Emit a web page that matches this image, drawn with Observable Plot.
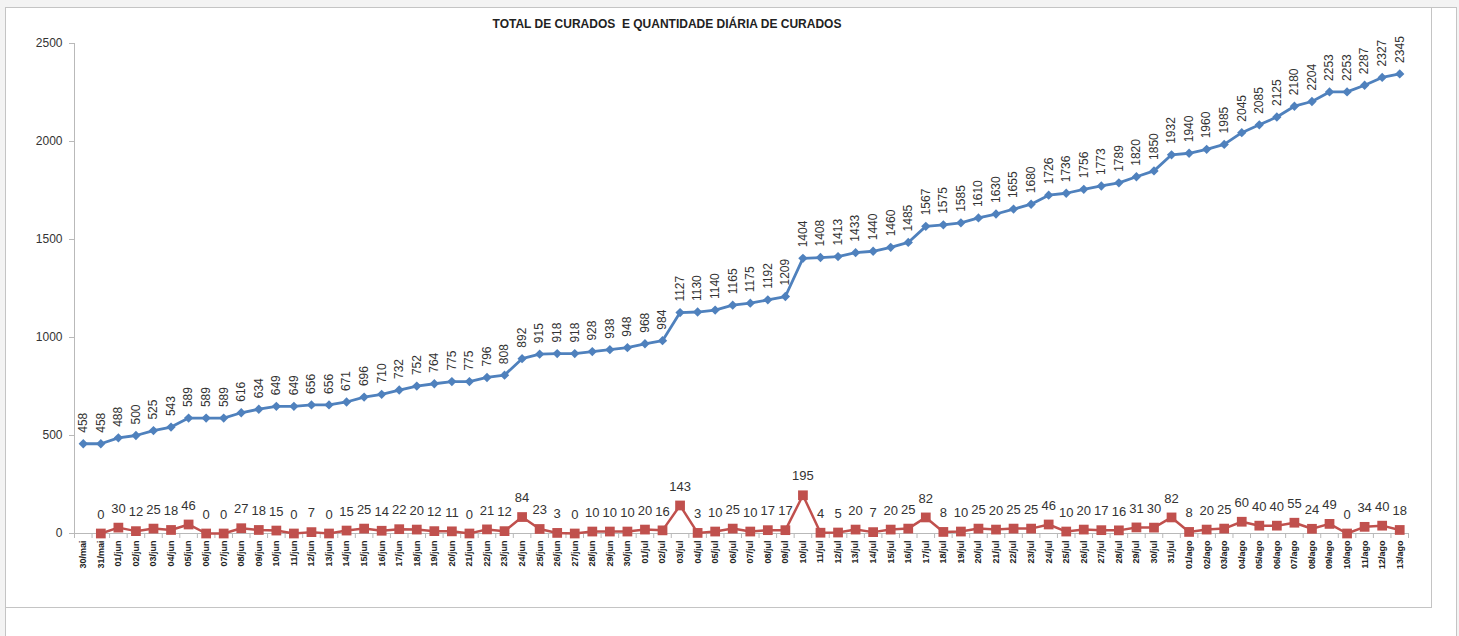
<!DOCTYPE html>
<html>
<head>
<meta charset="utf-8">
<script src="https://cdn.jsdelivr.net/npm/d3@7"></script>
<script src="https://cdn.jsdelivr.net/npm/@observablehq/plot@0.6"></script>
<style>
  html, body { margin: 0; padding: 0; }
  body { background: #f3f3f3; width: 1459px; height: 636px; overflow: hidden; position: relative; font-family: "Liberation Sans", Arial, sans-serif; }
  #outer { position: absolute; left: 5px; top: 7px; width: 1450px; height: 640px; background: #fff; border-left: 1px solid #c4c4c4; border-top: 1px solid #c4c4c4; border-right: 1px solid #c4c4c4; }
  #inner { position: absolute; left: 5px; top: 7px; width: 1426px; height: 600px; border-right: 1px solid #c4c4c4; border-bottom: 1px solid #c4c4c4; }
  #title { position: absolute; left: 0; top: 16px; width: 1334px; text-align: center; font-size: 12px; font-weight: bold; color: #222; line-height: 16px; }
  #chart { position: absolute; left: 0; top: 0; }
</style>
</head>
<body>
<div id="outer"></div>
<div id="inner"></div>
<div id="title">TOTAL DE CURADOS&nbsp; E QUANTIDADE DIÁRIA DE CURADOS</div>
<div id="chart"></div>
<script>
const dates = [
  "30/mai","31/mai",
  "01/jun","02/jun","03/jun","04/jun","05/jun","06/jun","07/jun","08/jun","09/jun","10/jun",
  "11/jun","12/jun","13/jun","14/jun","15/jun","16/jun","17/jun","18/jun","19/jun","20/jun",
  "21/jun","22/jun","23/jun","24/jun","25/jun","26/jun","27/jun","28/jun","29/jun","30/jun",
  "01/jul","02/jul","03/jul","04/jul","05/jul","06/jul","07/jul","08/jul","09/jul","10/jul",
  "11/jul","12/jul","13/jul","14/jul","15/jul","16/jul","17/jul","18/jul","19/jul","20/jul",
  "21/jul","22/jul","23/jul","24/jul","25/jul","26/jul","27/jul","28/jul","29/jul","30/jul","31/jul",
  "01/ago","02/ago","03/ago","04/ago","05/ago","06/ago","07/ago","08/ago","09/ago","10/ago",
  "11/ago","12/ago","13/ago"
];

const totalCurados = [
  458, 458,
  488, 500, 525, 543, 589, 589, 589, 616, 634, 649,
  649, 656, 656, 671, 696, 710, 732, 752, 764, 775,
  775, 796, 808, 892, 915, 918, 918, 928, 938, 948,
  968, 984, 1127, 1130, 1140, 1165, 1175, 1192, 1209, 1404,
  1408, 1413, 1433, 1440, 1460, 1485, 1567, 1575, 1585, 1610,
  1630, 1655, 1680, 1726, 1736, 1756, 1773, 1789, 1820, 1850, 1932,
  1940, 1960, 1985, 2045, 2085, 2125, 2180, 2204, 2253, 2253,
  2287, 2327, 2345
];

// daily values start at 31/mai
const dailyDates = dates.slice(1);
const dailyCurados = [
  0,
  30, 12, 25, 18, 46, 0, 0, 27, 18, 15,
  0, 7, 0, 15, 25, 14, 22, 20, 12, 11,
  0, 21, 12, 84, 23, 3, 0, 10, 10, 10,
  20, 16, 143, 3, 10, 25, 10, 17, 17, 195,
  4, 5, 20, 7, 20, 25, 82, 8, 10, 25,
  20, 25, 25, 46, 10, 20, 17, 16, 31, 30, 82,
  8, 20, 25, 60, 40, 40, 55, 24, 49, 0,
  34, 40, 18
];

const yTicks = [0, 500, 1000, 1500, 2000, 2500];

const totalData = dates.map((d, i) => ({date: d, value: totalCurados[i]}));
const dailyData = dailyDates.map((d, i) => ({date: d, value: dailyCurados[i]}));

const BLUE = "#4F81BD";
const RED = "#C0504D";
const AXIS = "#b9b9b9";

const W = 1459, H = 636;
const mL = 74, mR = 51, mT = 43, mB = 103;
const step = (W - mL - mR) / dates.length;

const chart = Plot.plot({
  width: W,
  height: H,
  marginLeft: mL,
  marginRight: mR,
  marginTop: mT,
  marginBottom: mB,
  style: { background: "transparent", fontFamily: "'Liberation Sans', Arial, sans-serif", overflow: "visible" },
  x: { type: "point", domain: dates, padding: 0.5, axis: null },
  y: { domain: [0, 2500], axis: null },
  marks: [
    Plot.frame({ anchor: "left", stroke: AXIS }),
    Plot.ruleY([0], { stroke: AXIS }),
    Plot.axisY({ ticks: yTicks, tickSize: 5, tickFormat: () => "", stroke: AXIS, label: null }),
    Plot.axisY({ ticks: yTicks, tickSize: 0, tickPadding: 12, tickFormat: d => String(d), fill: "#333", fontSize: 12, label: null }),
    Plot.axisX({ tickSize: 5, tickFormat: () => "", stroke: AXIS, dx: -step / 2, label: null }),
    Plot.axisX({ ticks: [dates[dates.length - 1]], tickSize: 5, tickFormat: () => "", stroke: AXIS, dx: step / 2, label: null }),
    Plot.axisX({ tickSize: 0, tickPadding: 7, tickRotate: -90, fontSize: 9, fontWeight: "bold", fill: "#222", label: null }),

    Plot.line(totalData, { x: "date", y: "value", stroke: BLUE, strokeWidth: 2.8 }),
    Plot.dot(totalData, { x: "date", y: "value", symbol: d3.symbolDiamond2, r: 4.2, fill: BLUE, stroke: "none" }),
    Plot.text(totalData, { x: "date", y: "value", text: d => String(d.value), rotate: -90, textAnchor: "start", lineAnchor: "middle", dy: -11, fontSize: 12, fill: "#333" }),

    Plot.line(dailyData, { x: "date", y: "value", stroke: RED, strokeWidth: 2.5 }),
    Plot.dot(dailyData, { x: "date", y: "value", symbol: "square", r: 5.5, fill: RED, stroke: "none" }),
    Plot.text(dailyData, { x: "date", y: "value", text: d => String(d.value), lineAnchor: "middle", dy: -19, fontSize: 13, fill: "#333" })
  ]
});

document.getElementById("chart").appendChild(chart);
</script>
</body>
</html>
